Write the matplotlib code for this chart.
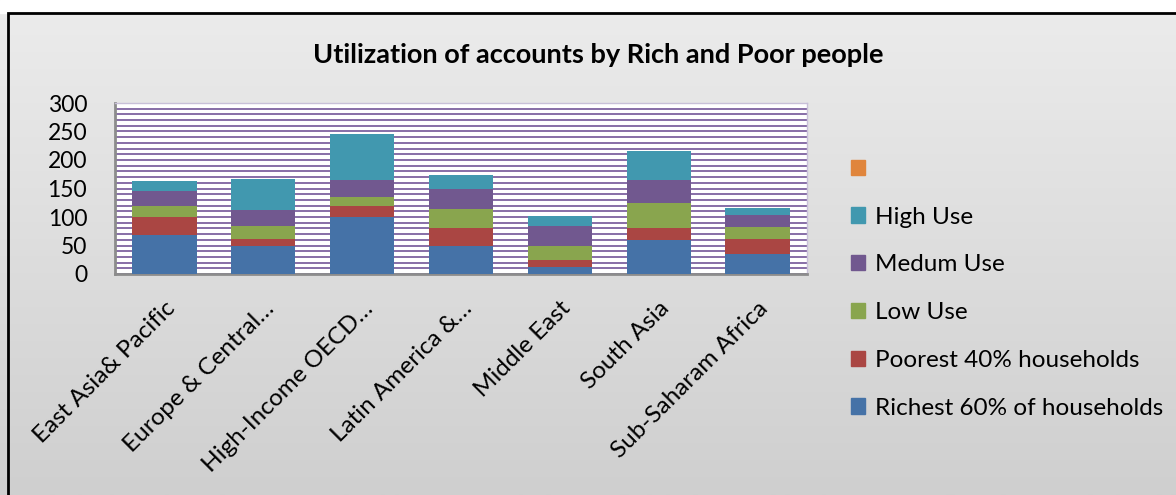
import numpy as np
import matplotlib.pyplot as plt
from matplotlib.patches import Patch, Rectangle

plt.rcParams['font.family'] = ['Lato', 'DejaVu Sans']

# data
regions = ['East Asia& Pacific', 'Europe & Central…', 'High-Income OECD…',
           'Latin America &…', 'Middle East', 'South Asia', 'Sub-Saharam Africa']
richest = [68, 50, 100, 50, 13, 60, 35]
poorest = [32, 12, 20, 30, 12, 20, 27]
low_use = [20, 22, 15, 34, 25, 45, 20]
medium_use = [25, 28, 30, 36, 34, 40, 21]
high_use = [18, 55, 80, 24, 18, 50, 12]

series = [('Richest 60% of households', richest, '#4572a7'),
          ('Poorest 40% households', poorest, '#aa4643'),
          ('Low Use', low_use, '#89a54e'),
          ('Medum Use', medium_use, '#71588f'),
          ('High Use', high_use, '#4198af')]

fig = plt.figure(figsize=(11.76, 4.95), dpi=100)

# gray gradient background + outer frame
bg = fig.add_axes([0, 0, 1, 1], zorder=-10)
grad = np.linspace(0, 1, 256).reshape(-1, 1)
bg.imshow(grad, aspect='auto', cmap=plt.matplotlib.colors.LinearSegmentedColormap.from_list(
    'g', ['#ececec', '#cfcfcf']), extent=[0, 1, 0, 1], origin='upper')
bg.set_xlim(0, 1)
bg.set_ylim(0, 1)
bg.axis('off')
bg.add_patch(Rectangle((0, 1 - 13 / 495), 1, 13 / 495, color='white', zorder=2))
bg.add_patch(Rectangle((8 / 1176, -0.05), 1.0, 1.05 - 13 / 495, fill=False,
                       edgecolor='black', linewidth=2, zorder=3))

ax = fig.add_axes([115 / 1176, 1 - 274 / 495, 692 / 1176, 171 / 495])
ax.set_facecolor('white')
x = np.arange(len(regions))
bottom = np.zeros(len(regions))
for name, vals, col in series:
    ax.bar(x, vals, 0.65, bottom=bottom, color=col, label=name, zorder=3)
    bottom += np.array(vals)

ax.set_xlim(-0.5, len(regions) - 0.5)
ax.set_ylim(0, 300)
ax.set_yticks(np.arange(0, 301, 50))
ax.set_yticks(np.arange(0, 301, 10), minor=True)
ax.grid(True, axis='y', which='both', color='#7e62a0', linewidth=1.3, zorder=0)
ax.tick_params(axis='y', which='both', length=0, labelsize=16.5, pad=20)
ax.tick_params(axis='x', length=0, labelsize=17.5, pad=17)
ax.set_xticks(x)
ax.set_xticklabels(regions, rotation=45, ha='right', rotation_mode='anchor')
for s in ['top', 'right']:
    ax.spines[s].set_color('#c8c0d8')
    ax.spines[s].set_linewidth(1)
for s in ['left', 'bottom']:
    ax.spines[s].set_color('#8c8c8c')
    ax.spines[s].set_linewidth(2)

fig.text(598 / 1176, 1 - 55 / 495, 'Utilization of accounts by Rich and Poor people',
         ha='center', va='center', fontsize=19.5, fontweight='bold')

handles = [Patch(color='#e0853c', label=' ')]
for name, vals, col in reversed(series):
    handles.append(Patch(color=col, label=name))
fig.legend(handles=handles, loc='upper left', bbox_to_anchor=(829 / 1176, 1 - 137 / 495),
           frameon=False, fontsize=17.5, labelspacing=1.1, handlelength=0.6,
           handleheight=0.6, handletextpad=0.4)

fig.savefig('out.png', dpi=100)
